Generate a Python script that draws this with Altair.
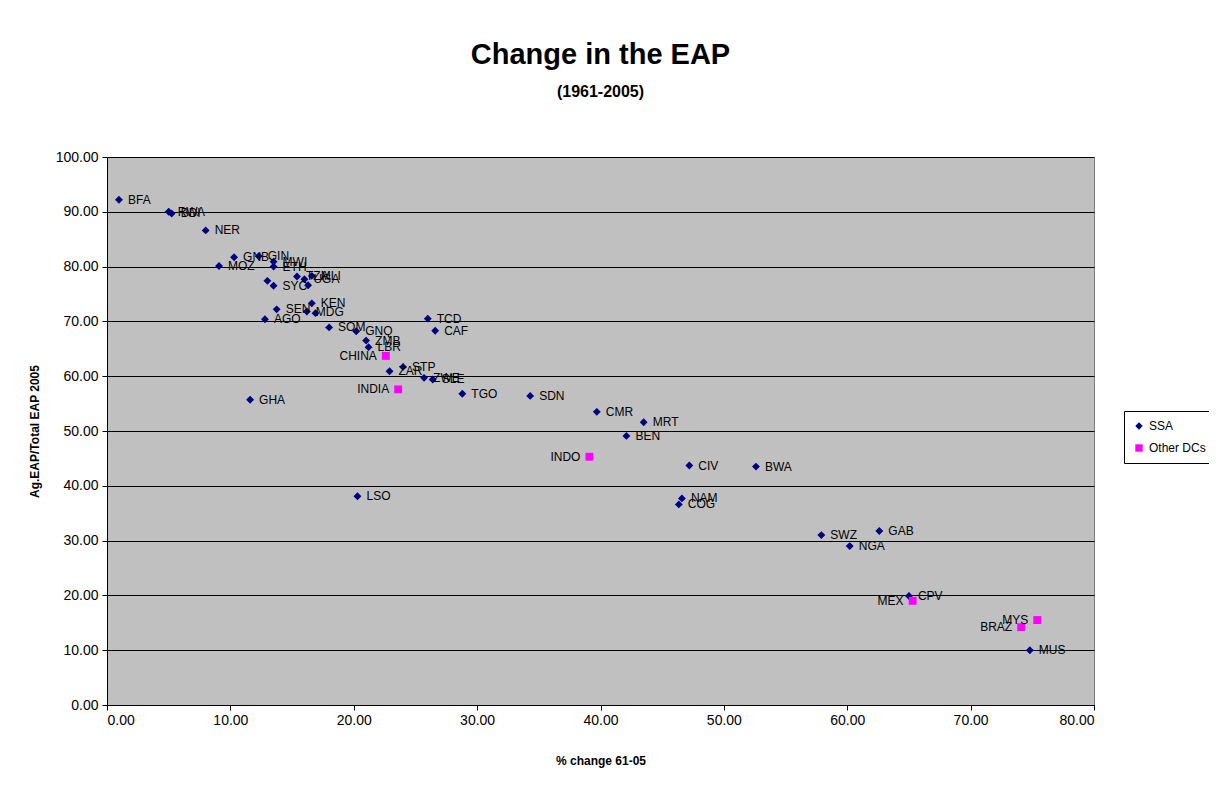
import altair as alt
import pandas as pd

# SSA countries
ssa_labels = ["BFA", "RWA", "BDI", "NER", "GNB", "MOZ", "GIN", "MWI", "ETH", "", "SYC",
              "TZA", "UGA", "", "MLI", "KEN", "SEN", "MDG", "", "AGO", "SOM", "GNQ", "ZMB",
              "LBR", "ZAR", "STP", "GHA", "TCD", "CAF", "ZWE", "SLE", "TGO", "SDN", "CMR",
              "MRT", "BEN", "CIV", "BWA", "NAM", "COG", "LSO", "SWZ", "GAB", "NGA", "CPV", "MUS"]
ssa_x = [0.97, 5.0, 5.24, 8.0, 10.3, 9.08, 12.3, 13.5, 13.5, 13.0, 13.5,
         15.4, 16.0, 16.3, 16.6, 16.6, 13.75, 16.2, 16.9, 12.8, 18.0, 20.2, 21.0,
         21.2, 22.9, 24.0, 11.6, 26.0, 26.6, 25.7, 26.4, 28.8, 34.3, 39.7,
         43.5, 42.1, 47.2, 52.6, 46.6, 46.35, 20.3, 57.9, 62.6, 60.2, 65.0, 74.8]
ssa_y = [92.2, 90.0, 89.7, 86.6, 81.7, 80.1, 81.9, 80.9, 80.0, 77.4, 76.5,
         78.2, 77.7, 76.6, 78.3, 73.3, 72.2, 71.8, 71.5, 70.4, 68.9, 68.2, 66.5,
         65.3, 60.9, 61.7, 55.7, 70.5, 68.3, 59.7, 59.4, 56.8, 56.4, 53.5,
         51.6, 49.1, 43.7, 43.5, 37.7, 36.6, 38.1, 31.0, 31.75, 29.0, 19.9, 10.0]

# Other developing countries
dc_labels = ["CHINA", "INDIA", "INDO", "MEX", "MYS", "BRAZ"]
dc_x = [22.6, 23.6, 39.1, 65.3, 75.4, 74.1]
dc_y = [63.7, 57.6, 45.3, 19.0, 15.5, 14.2]

series_names = ["SSA", "Other DCs"]
x_ticks = [0, 10, 20, 30, 40, 50, 60, 70, 80]
y_ticks = [0, 10, 20, 30, 40, 50, 60, 70, 80, 90, 100]

df_ssa = pd.DataFrame({"label": ssa_labels, "x": ssa_x, "y": ssa_y, "series": "SSA"})
df_dc = pd.DataFrame({"label": dc_labels, "x": dc_x, "y": dc_y, "series": "Other DCs"})
df = pd.concat([df_ssa, df_dc], ignore_index=True)

FONT = "Liberation Sans"

xenc = alt.X("x:Q", scale=alt.Scale(domain=[0, 80], nice=False),
             axis=alt.Axis(values=x_ticks, format=".2f", title="% change 61-05",
                           grid=False, tickSize=5, tickColor="black", domainColor="black",
                           labelFontSize=14, labelColor="black", titleFontSize=12,
                           titleFontWeight="bold", titleColor="black", titlePadding=28,
                           labelPadding=3))
yenc = alt.Y("y:Q", scale=alt.Scale(domain=[0, 100], nice=False),
             axis=alt.Axis(values=y_ticks, format=".2f", title="Ag.EAP/Total EAP 2005",
                           grid=True, gridColor="black", gridWidth=1, gridOpacity=1,
                           tickSize=5, tickColor="black", domainColor="black",
                           labelFontSize=14, labelColor="black", titleFontSize=12,
                           titleFontWeight="bold", titleColor="black", titlePadding=14,
                           labelPadding=4))

legend = alt.Legend(title=None, orient="none", legendX=1017, legendY=254,
                    fillColor="white", strokeColor="black", padding=9,
                    labelFontSize=12, labelColor="black", rowPadding=10,
                    symbolSize=55, labelFont=FONT)

points = alt.Chart(df).mark_point(filled=True, opacity=1, size=62).encode(
    x=xenc,
    y=yenc,
    color=alt.Color("series:N", scale=alt.Scale(domain=series_names, range=["#000080", "#FF00FF"]),
                    legend=legend),
    shape=alt.Shape("series:N", scale=alt.Scale(domain=series_names, range=["diamond", "square"]),
                    legend=legend),
)

text_ssa = alt.Chart(df_ssa).mark_text(align="left", baseline="middle", dx=9, fontSize=12,
                                       font=FONT, color="black").encode(
    x="x:Q", y="y:Q", text="label:N")
text_dc = alt.Chart(df_dc).mark_text(align="right", baseline="middle", dx=-9, fontSize=12,
                                     font=FONT, color="black").encode(
    x="x:Q", y="y:Q", text="label:N")

chart = alt.layer(points, text_ssa, text_dc).properties(
    width=987, height=548,
    autosize=alt.AutoSizeParams(type="none"),
    padding={"left": 99, "top": 149, "right": 115, "bottom": 70},
    title=alt.TitleParams(text="Change in the EAP", subtitle="(1961-2005)",
                          fontSize=29, fontWeight="bold", subtitleFontSize=16,
                          subtitleFontWeight="bold", color="black", subtitleColor="black",
                          font=FONT, subtitleFont=FONT, anchor="middle", offset=50,
                          subtitlePadding=14),
).configure(
    font=FONT,
    background="white",
).configure_view(
    fill="#C0C0C0", stroke="#808080", strokeWidth=1
)

chart.save("out.html", embed_options={"renderer": "svg", "actions": False})
